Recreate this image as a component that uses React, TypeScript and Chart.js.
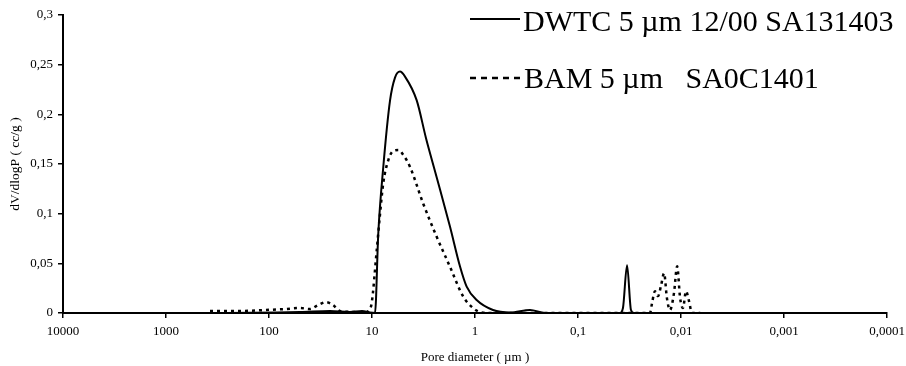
import React, { useEffect, useRef } from "react";
import { Chart, registerables } from "chart.js";

Chart.register(...registerables);

// Pore diameters (µm) and dV/dlogP (cc/g)
const dwtcDiameters = [6840, 468, 50, 25.6, 16.4, 12.5, 10.5, 9.35, 8.69, 7.77, 6.68, 5.98, 5.35, 4.78, 3.68, 2.99, 2.36, 1.75, 1.4, 1.205, 0.964, 0.669, 0.457, 0.292, 0.209, 0.0391, 0.0366, 0.0334, 0.0306, 0.0286, 0.0065];
const dwtcValues = [0, 0, 0.001, 0.002, 0.001, 0.002, 0.0005, 0, 0.08, 0.147, 0.214, 0.237, 0.243, 0.238, 0.214, 0.176, 0.137, 0.087, 0.047, 0.0265, 0.013, 0.003, 0.0005, 0.003, 0, 0, 0.005, 0.048, 0.003, 0, 0];

const bamDiameters = [374, 191, 109, 70, 50, 40, 33.4, 28, 23.9, 20.5, 14.6, 11.7, 10.7, 10.07, 9.0, 8.35, 7.77, 6.94, 6.25, 5.55, 4.89, 4.27, 3.18, 2.36, 1.75, 1.3, 1.045, 0.893, 0.714, 0.02, 0.0191, 0.0179, 0.0167, 0.0156, 0.0146, 0.0137, 0.0128, 0.0117, 0.0109, 0.0102, 0.00957, 0.00894, 0.00836, 0.00782, 0.0065];
const bamValues = [0.002, 0.002, 0.003, 0.004, 0.005, 0.004, 0.008, 0.011, 0.008, 0.002, 0.001, 0.0005, 0.003, 0.01, 0.063, 0.1, 0.131, 0.154, 0.163, 0.164, 0.158, 0.147, 0.11, 0.077, 0.0466, 0.0164, 0.005, 0.001, 0, 0, 0.01, 0.022, 0.017, 0.028, 0.04, 0.015, 0.003, 0.02, 0.047, 0.015, 0.005, 0.022, 0.012, 0, 0];

const xTickValues = [10000, 1000, 100, 10, 1, 0.1, 0.01, 0.001, 0.0001];
const xTickLabels = ["10000", "1000", "100", "10", "1", "0,1", "0,01", "0,001", "0,0001"];
const yTickLabels = ["0", "0,05", "0,1", "0,15", "0,2", "0,25", "0,3"];

const seriesLabels = ["DWTC 5 µm 12/00 SA131403", "BAM 5 µm   SA0C1401"];

const FONT = '"Liberation Serif", "Times New Roman", serif';

const legendPlugin = {
  id: "customLegend",
  afterDraw(chart: any) {
    const ctx = chart.ctx;
    ctx.save();
    ctx.strokeStyle = "#000";
    ctx.fillStyle = "#000";
    ctx.font = `30px ${FONT}`;
    ctx.textBaseline = "alphabetic";
    ctx.textAlign = "left";
    // solid
    ctx.lineWidth = 2;
    ctx.setLineDash([]);
    ctx.beginPath();
    ctx.moveTo(470, 19);
    ctx.lineTo(520, 19);
    ctx.stroke();
    ctx.fillText(chart.data.datasets[0].label, 523, 31);
    // dashed
    ctx.lineWidth = 2.5;
    ctx.setLineDash([6, 5]);
    ctx.beginPath();
    ctx.moveTo(470, 78);
    ctx.lineTo(520, 78);
    ctx.stroke();
    ctx.setLineDash([]);
    ctx.fillText(chart.data.datasets[1].label, 524, 88);
    ctx.restore();
  },
};

export default function App() {
  const ref = useRef<HTMLCanvasElement | null>(null);
  useEffect(() => {
    document.body.style.margin = "0";
    Chart.defaults.font.family = FONT;
    Chart.defaults.color = "#000";
    const chart = new Chart(ref.current as HTMLCanvasElement, {
      type: "line",
      data: {
        datasets: [
          {
            label: seriesLabels[0],
            data: dwtcDiameters.map((d, i) => ({ x: d, y: dwtcValues[i] })),
            borderColor: "#000",
            borderWidth: 2,
            pointRadius: 0,
            cubicInterpolationMode: "monotone",
            fill: false,
          },
          {
            label: seriesLabels[1],
            data: bamDiameters.map((d, i) => ({ x: d, y: bamValues[i] })),
            borderColor: "#000",
            borderWidth: 2.5,
            borderDash: [3, 4],
            pointRadius: 0,
            cubicInterpolationMode: "monotone",
            fill: false,
          },
        ],
      },
      options: {
        animation: false,
        responsive: false,
        devicePixelRatio: 1,
        layout: { padding: { top: 15, right: 19, left: 0, bottom: 0 } },
        plugins: { legend: { display: false }, tooltip: { enabled: false } },
        scales: {
          x: {
            type: "logarithmic",
            reverse: true,
            min: 0.0001,
            max: 10000,
            afterBuildTicks: (scale: any) => {
              scale.ticks = xTickValues.map((v) => ({ value: v }));
            },
            afterFit: (scale: any) => {
              scale.height = 53;
              scale.paddingLeft = 0;
              scale.paddingRight = 0;
            },
            ticks: {
              autoSkip: false,
              maxRotation: 0,
              padding: 6,
              font: { size: 13, family: FONT },
              color: "#000",
              callback: (_v: any, i: number) => xTickLabels[i],
            },
            grid: {
              drawOnChartArea: false,
              drawTicks: true,
              tickLength: 5,
              color: "#000",
              lineWidth: 1.5,
            },
            border: { color: "#000", width: 2 },
            title: {
              display: true,
              text: "Pore diameter ( µm )",
              font: { size: 13, family: FONT },
              color: "#000",
              padding: { top: 0, bottom: 1 },
            },
          },
          y: {
            type: "linear",
            min: 0,
            max: 0.3,
            afterBuildTicks: (scale: any) => {
              scale.ticks = yTickLabels.map((_, i) => ({ value: i * 0.05 }));
            },
            afterFit: (scale: any) => {
              scale.width = 63;
              scale.paddingTop = 0;
              scale.paddingBottom = 0;
            },
            ticks: {
              padding: 5,
              font: { size: 13, family: FONT },
              color: "#000",
              callback: (_v: any, i: number) => yTickLabels[i],
            },
            grid: {
              drawOnChartArea: false,
              drawTicks: true,
              tickLength: 5,
              color: "#000",
              lineWidth: 1.5,
            },
            border: { color: "#000", width: 2 },
            title: {
              display: true,
              text: "dV/dlogP ( cc/g )",
              font: { size: 13.5, family: FONT },
              color: "#000",
              padding: { top: 7, bottom: 0 },
            },
          },
        },
      } as any,
      plugins: [legendPlugin],
    });
    return () => chart.destroy();
  }, []);
  return (
    <div style={{ width: 906, height: 366 }}>
      <canvas ref={ref} width={906} height={366} />
    </div>
  );
}
